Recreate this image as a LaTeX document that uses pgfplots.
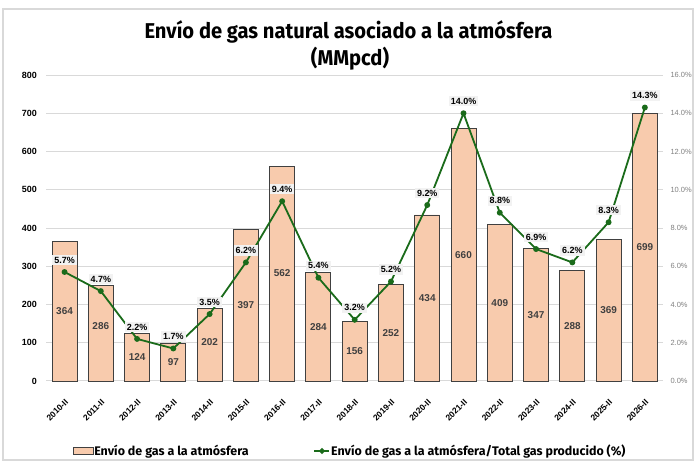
\documentclass[border=0pt]{standalone}
\usepackage{pgfplots}
\pgfplotsset{compat=1.18}
\usepackage{pgfplotstable}
\usepackage{fontspec}
\setmainfont{Liberation Sans}
\newfontfamily\titlefont[FakeStretch=0.94]{Fira Sans}
\newfontfamily\legfont{Fira Sans}
\definecolor{barfill}{HTML}{F8CBAD}
\definecolor{barline}{HTML}{404040}
\definecolor{lgreen}{HTML}{1A6B1A}
\definecolor{gridc}{HTML}{D9D9D9}
\definecolor{framec}{HTML}{D9D9D9}
\definecolor{lblbg}{HTML}{F2F2F2}
\definecolor{rtick}{HTML}{808080}

\pgfplotstableread{
x h v p
0 364 364 5.7
1 250 286 4.7
2 124 124 2.2
3 97 97 1.7
4 190 202 3.5
5 397 397 6.2
6 562 562 9.4
7 284 284 5.4
8 156 156 3.2
9 252 252 5.2
10 434 434 9.2
11 660 660 14.0
12 409 409 8.8
13 347 347 6.9
14 288 288 6.2
15 369 369 8.3
16 699 699 14.3
}\datatab

\begin{document}
\begin{tikzpicture}
\useasboundingbox (0,0) rectangle (700bp,464bp);
\fill[white] (0,0) rectangle (700bp,464bp);
\draw[framec, line width=1.5bp] (3bp,4bp) rectangle (693bp,455bp);

\node[anchor=base, font=\titlefont\bfseries\fontsize{21.5}{26}\selectfont] at (348.5bp,425.7bp) {Envío de gas natural asociado a la atmósfera};
\node[anchor=base, font=\titlefont\bfseries\fontsize{21.5}{26}\selectfont] at (350bp,398bp) {(MMpcd)};

\begin{axis}[
  scale only axis, width=616.6bp, height=306bp,
  at={(46.4bp,83bp)}, anchor=south west,
  xmin=-0.5, xmax=16.5, ymin=0, ymax=800,
  ytick={0,100,...,800},
  xtick={0,...,16},
  xticklabels={2010-II,2011-II,2012-II,2013-II,2014-II,2015-II,2016-II,2017-II,2018-II,2019-II,2020-II,2021-II,2022-II,2023-II,2024-II,2025-II,2026-II},
  axis line style={draw=none},
  tick style={draw=none},
  ymajorgrids, grid style={gridc, line width=1bp},
  yticklabel style={font=\bfseries\fontsize{9}{9}\selectfont, xshift=-6bp},
  xticklabel style={font=\bfseries\fontsize{8.5}{8.5}\selectfont, yshift=-16bp, rotate=45, anchor=north east, inner sep=1bp},
  /pgf/number format/assume math mode=true,
  clip=false,
]
\addplot[ybar, bar width=25bp, fill=barfill, draw=barline, line width=0.9bp] table[x=x, y=h] {\datatab};
\addplot[draw=none, mark=none, nodes near coords, point meta=explicit,
  nodes near coords style={anchor=center, font=\bfseries\fontsize{10}{10}\selectfont, text=barline, /pgf/number format/fixed, /pgf/number format/precision=0}]
  table[x=x, y expr=\thisrow{v}/2, meta=v] {\datatab};
\end{axis}

\begin{axis}[
  scale only axis, width=616.6bp, height=306bp,
  at={(46.4bp,83bp)}, anchor=south west,
  xmin=-0.5, xmax=16.5, ymin=0, ymax=16,
  ytick={0,2,...,16},
  axis y line*=right,
  hide x axis,
  axis line style={draw=none},
  tick style={draw=none},
  yticklabel={\pgfmathprintnumber[fixed,zerofill,precision=1]{\tick}\%},
  yticklabel style={font=\fontsize{7.5}{7.5}\selectfont, text=rtick, xshift=4bp},
  /pgf/number format/assume math mode=true,
  clip=false,
  legend columns=2,
  legend style={at={(0.4916,-0.2288)}, anchor=center, draw=none, fill=none,
    font=\legfont\bfseries\fontsize{12.5}{12.5}\selectfont,
    nodes={inner sep=1bp},
    /tikz/every even column/.append style={column sep=64bp}},
]
\addlegendimage{legend image code/.code={\draw[fill=barfill, draw=barline, line width=0.8bp] (0bp,-3.5bp) rectangle (20bp,3.5bp);}}
\addlegendentry{Envío de gas a la atmósfera}
\addplot[lgreen, line width=1.8bp, mark=*, mark size=2bp,
  legend image code/.code={\draw[lgreen, line width=1.5bp] (0bp,0bp) -- (15bp,0bp); \fill[lgreen] (7.5bp,0bp) circle (1.8bp);},
  nodes near coords={\pgfmathprintnumber[fixed,zerofill,precision=1]{\pgfplotspointmeta}\%},
  point meta=explicit,
  nodes near coords style={anchor=center, yshift=12bp, fill=lblbg, text=black, inner sep=2bp, font=\bfseries\fontsize{9}{9}\selectfont}]
  table[x=x, y=p, meta=p] {\datatab};
\addlegendentry{Envío de gas a la atmósfera/Total gas producido (\%)}
\end{axis}
\end{tikzpicture}
\end{document}
